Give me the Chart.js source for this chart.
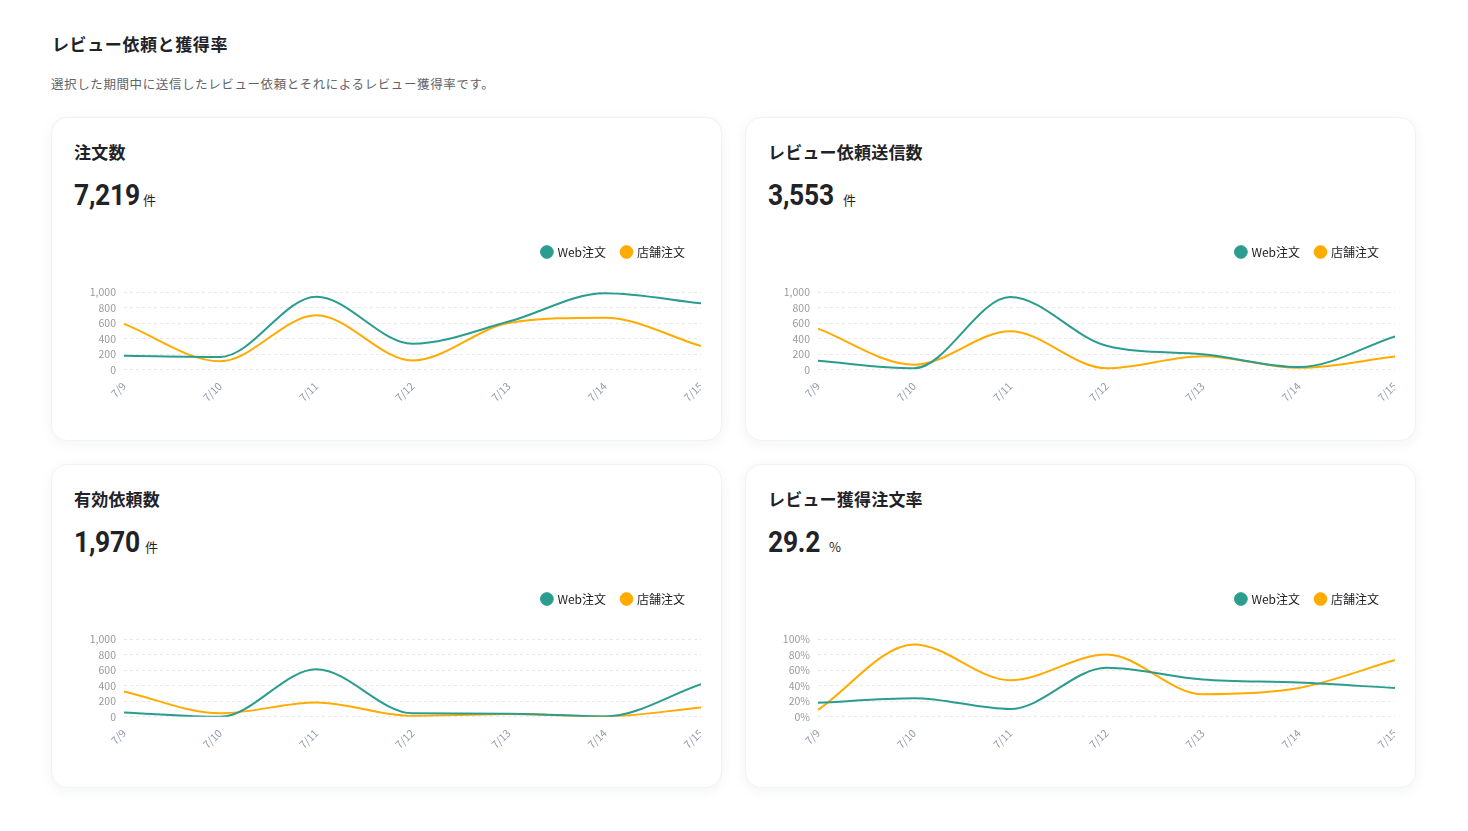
<!DOCTYPE html>
<html lang="ja">
<head>
<meta charset="utf-8">
<title>レビュー依頼と獲得率</title>
<script src="https://cdn.jsdelivr.net/npm/chart.js@4/dist/chart.umd.min.js"></script>
<style>
  * { box-sizing: border-box; }
  body {
    margin: 0;
    background: #fff;
    font-family: 'Noto Sans CJK JP', 'Noto Sans', sans-serif;
    color: #1f2328;
  }
  .page { position: relative; width: 1468px; height: 831px; }
  h1 {
    position: absolute; left: 52px; top: 31px; margin: 0;
    font-size: 17px; font-weight: 700; letter-spacing: 0.6px;
  }
  .lead {
    position: absolute; left: 51px; top: 74px; margin: 0;
    font-size: 12.5px; color: #5f6368; letter-spacing: 0.6px;
  }
  .card {
    position: absolute; width: 671px; height: 324px;
    background: #fff; border-radius: 16px;
    border: 1px solid #f1f2f4;
    box-shadow: 0 3px 14px rgba(20, 30, 60, 0.05);
  }
  .card h2 {
    position: absolute; left: 22px; top: 21px; margin: 0;
    font-size: 17px; font-weight: 700; letter-spacing: 0.2px;
  }
  .card .total {
    position: absolute; left: 22px; top: 59px;
    white-space: nowrap;
  }
  .card .total b {
    display: inline-block;
    font-family: Roboto, Inter, sans-serif;
    font-size: 30px; font-weight: 700; letter-spacing: -0.3px;
    transform: scaleX(0.88); transform-origin: left center;
  }
  .card .total small {
    position: absolute; top: 13px;
    font-size: 13px; font-weight: 400;
  }
  .card .box {
    position: absolute; left: 22px; top: 112px; width: 627px; height: 176px;
  }
</style>
</head>
<body>
<div class="page">
  <h1>レビュー依頼と獲得率</h1>
  <p class="lead">選択した期間中に送信したレビュー依頼とそれによるレビュー獲得率です。</p>

  <div class="card" style="left:51px;top:117px">
    <h2>注文数</h2>
    <div class="total"><b>7,219</b><small style="left:69px">件</small></div>
    <div class="box"><canvas id="ordersChart"></canvas></div>
  </div>
  <div class="card" style="left:745px;top:117px">
    <h2>レビュー依頼送信数</h2>
    <div class="total"><b>3,553</b><small style="left:75px">件</small></div>
    <div class="box"><canvas id="requestsChart"></canvas></div>
  </div>
  <div class="card" style="left:51px;top:464px">
    <h2>有効依頼数</h2>
    <div class="total"><b>1,970</b><small style="left:71px">件</small></div>
    <div class="box"><canvas id="validChart"></canvas></div>
  </div>
  <div class="card" style="left:745px;top:464px">
    <h2>レビュー獲得注文率</h2>
    <div class="total"><b>29.2</b><small style="left:61px">%</small></div>
    <div class="box"><canvas id="rateChart"></canvas></div>
  </div>
</div>

<script>
const days = ['7/9', '7/10', '7/11', '7/12', '7/13', '7/14', '7/15'];
const seriesNames = ['Web注文', '店舗注文'];

const ordersWeb = [180, 165, 940, 335, 620, 985, 855];
const ordersStore = [590, 110, 700, 120, 600, 670, 305];

const requestsWeb = [115, 20, 935, 310, 200, 35, 430];
const requestsStore = [530, 65, 495, 20, 175, 25, 170];

const validWeb = [55, 0, 610, 45, 40, 5, 420];
const validStore = [325, 45, 185, 10, 35, 5, 120];

const rateWeb = [18, 24, 10, 63, 48, 44, 37];
const rateStore = [9, 93, 47, 80, 29, 37, 73];

const countTicks = [0, 200, 400, 600, 800, 1000];
const rateTicks = [0, 20, 40, 60, 80, 100];

const teal = '#2a9d8f';
const amber = '#ffab00';

Chart.defaults.font.family = "'Noto Sans CJK JP', 'Noto Sans', sans-serif";

// push the plot down a bit under the legend
const legendGap = {
  id: 'legendGap',
  beforeInit(chart) {
    const fit = chart.legend.fit;
    chart.legend.fit = function () {
      fit.bind(chart.legend)();
      this.height += 24;
    };
  }
};

function makeChart(id, web, store, ticks, suffix) {
  const ctx = document.getElementById(id).getContext('2d');
  return new Chart(ctx, {
    type: 'line',
    data: {
      labels: days,
      datasets: [
        { label: seriesNames[0], data: web, borderColor: teal, backgroundColor: teal },
        { label: seriesNames[1], data: store, borderColor: amber, backgroundColor: amber }
      ]
    },
    options: {
      responsive: true,
      maintainAspectRatio: false,
      animation: false,
      elements: {
        line: { borderWidth: 2, cubicInterpolationMode: 'monotone', fill: false },
        point: { radius: 0, hoverRadius: 0 }
      },
      plugins: {
        legend: {
          position: 'top',
          align: 'end',
          labels: {
            usePointStyle: true,
            pointStyle: 'circle',
            boxWidth: 9,
            boxHeight: 9,
            padding: 16,
            color: '#222',
            font: { size: 12 }
          }
        },
        tooltip: { enabled: false }
      },
      scales: {
        x: {
          grid: { display: false },
          border: { display: false },
          // let the last label run off the edge like the original
          afterFit(scale) { scale.paddingRight = 0; },
          ticks: {
            color: '#8f9aab',
            font: { size: 10.5 },
            minRotation: 45,
            maxRotation: 45,
            padding: 2
          }
        },
        y: {
          min: ticks[0],
          max: ticks[ticks.length - 1],
          afterFit(scale) { scale.width = 50; },
          afterBuildTicks(scale) { scale.ticks = ticks.map(v => ({ value: v })); },
          border: { display: false, dash: [3, 3] },
          grid: { color: '#e9e9e9', drawTicks: false },
          ticks: {
            autoSkip: false,
            color: '#9a9a9a',
            font: { size: 10.5 },
            padding: 8,
            callback: v => suffix ? v + suffix : v.toLocaleString('en-US')
          }
        }
      }
    },
    plugins: [legendGap]
  });
}

makeChart('ordersChart', ordersWeb, ordersStore, countTicks, '');
makeChart('requestsChart', requestsWeb, requestsStore, countTicks, '');
makeChart('validChart', validWeb, validStore, countTicks, '');
makeChart('rateChart', rateWeb, rateStore, rateTicks, '%');
</script>
</body>
</html>
